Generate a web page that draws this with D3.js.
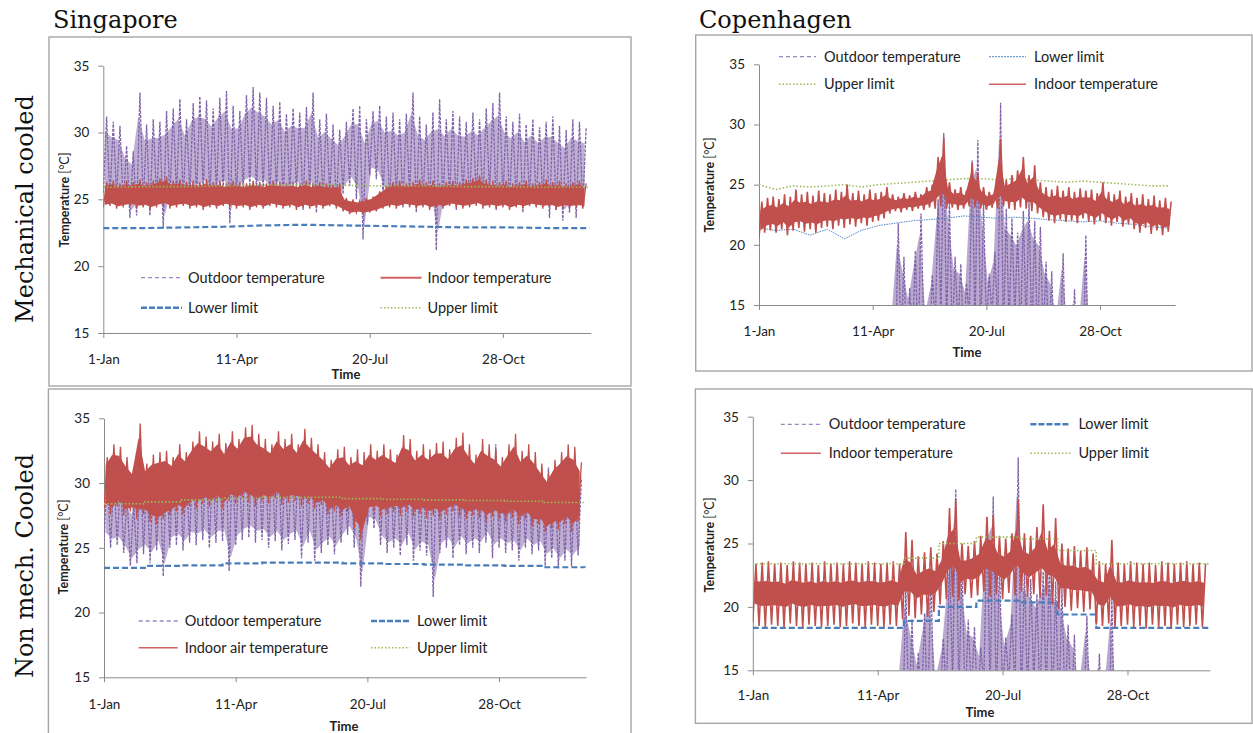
<!DOCTYPE html>
<html>
<head>
<meta charset="utf-8">
<script src="https://cdn.jsdelivr.net/npm/d3@7"></script>
<style>
  body { margin: 0; background: #fff; }
  svg { display: block; }
</style>
</head>
<body>
<svg id="chart" width="1253" height="733"></svg>
<script>
// ---- axis labels ----
const tickDays = [0, 100, 200, 300];
const tickLabels = ["1-Jan", "11-Apr", "20-Jul", "28-Oct"];
const yTicks = [15, 20, 25, 30, 35];

// hourly series are kept as 5-day envelopes: low at day 5i, high at day 5i+2.5
const STEP = 5;

// Singapore outdoor temperature (same weather file in both Singapore charts)
const sgOutHi = [
  31.2, 30.8, 30.5, 29.0, 28.6, 33.0, 30.6, 31.0, 30.8, 31.6,
  31.8, 32.5, 31.0, 32.2, 32.7, 32.4, 31.8, 32.6, 33.1, 32.0,
  31.6, 32.8, 33.4, 33.0, 32.6, 32.0, 32.3, 31.4, 31.8, 31.5,
  31.9, 33.0, 31.0, 31.4, 30.6, 30.2, 30.8, 31.8, 32.0, 31.0,
  31.6, 32.0, 31.2, 31.5, 31.0, 31.4, 33.0, 31.2, 30.6, 31.5,
  32.5, 31.0, 31.6, 31.2, 30.8, 31.5, 31.0, 31.8, 32.2, 33.0,
  31.2, 30.8, 31.4, 30.6, 31.0, 30.4, 30.8, 31.2, 30.5, 30.2,
  31.0, 30.8, 30.4
];
const sgOutLo = [
  25.5, 25.0, 25.2, 24.6, 23.6, 23.8, 24.5, 23.8, 24.8, 22.8,
  25.0, 25.2, 24.8, 25.4, 25.2, 25.6, 25.0, 25.4, 25.5, 23.2,
  25.2, 25.6, 25.8, 25.4, 25.6, 25.0, 25.5, 24.8, 25.3, 25.6,
  24.2, 25.4, 24.0, 24.6, 25.2, 24.5, 25.4, 26.0, 25.0, 22.0,
  26.8, 26.5, 25.2, 24.6, 25.0, 24.4, 25.2, 24.0, 24.8, 24.4,
  21.2, 24.6, 25.0, 24.2, 25.2, 24.5, 25.0, 24.6, 25.4, 24.2,
  25.0, 24.6, 24.8, 24.0, 25.0, 24.5, 24.8, 23.6, 24.2, 23.4,
  24.0, 23.6, 24.4
];

// Singapore, mechanical cooled, indoor temperature
const sgMechInHi = [
  26.3, 26.4, 26.2, 26.4, 26.3, 26.5, 26.3, 26.4, 26.6, 26.7,
  26.4, 26.5, 26.3, 26.4, 26.3, 26.5, 26.3, 26.4, 26.2, 26.4,
  26.3, 26.2, 26.4, 26.3, 26.2, 26.4, 26.3, 26.2, 26.3, 26.2,
  26.4, 26.2, 26.3, 26.2, 26.1, 26.2, 25.1, 25.0, 24.9, 25.1,
  25.2, 25.6, 26.0, 26.3, 26.4, 26.2, 26.3, 26.5, 26.3, 26.4,
  26.2, 26.3, 26.4, 26.3, 26.5, 26.6, 26.8, 26.5, 26.4, 26.3,
  26.4, 26.2, 26.3, 26.4, 26.2, 26.3, 26.5, 26.3, 26.4, 26.2,
  26.3, 26.4, 26.2
];
const sgMechInLo = [
  24.4, 24.5, 24.3, 24.4, 24.5, 24.3, 24.4, 24.2, 24.4, 24.5,
  24.3, 24.4, 24.5, 24.3, 24.4, 24.2, 24.4, 24.3, 24.5, 24.4,
  24.3, 24.4, 24.2, 24.4, 24.3, 24.5, 24.4, 24.3, 24.4, 24.2,
  24.4, 24.3, 24.4, 24.3, 24.5, 24.3, 24.1, 23.9, 24.0, 23.9,
  24.0, 24.1, 24.3, 24.4, 24.3, 24.5, 24.4, 24.3, 24.4, 24.2,
  24.4, 24.3, 24.5, 24.4, 24.3, 24.4, 24.5, 24.3, 24.4, 24.3,
  24.4, 24.2, 24.4, 24.3, 24.5, 24.4, 24.3, 24.4, 24.2, 24.4,
  24.3, 24.4, 24.3
];

// Singapore, non mech. cooled, indoor air temperature
const sgNatInHi = [
  32.0, 33.0, 32.8, 32.0, 31.2, 34.6, 31.5, 32.2, 32.4, 32.5,
  32.0, 33.0, 32.4, 33.2, 34.0, 33.6, 33.2, 33.8, 33.0, 34.0,
  33.4, 34.3, 34.5, 33.8, 33.4, 33.0, 34.0, 33.4, 33.8, 33.0,
  34.2, 33.5, 33.0, 32.4, 31.8, 32.6, 32.8, 32.0, 32.6, 32.4,
  33.0, 32.5, 33.0, 32.6, 32.2, 33.7, 33.4, 32.5, 33.0, 32.6,
  33.1, 33.2, 32.6, 33.5, 33.9, 33.0, 32.2, 33.4, 33.0, 32.6,
  32.0, 33.0, 33.8, 32.5, 33.0, 32.4, 31.5, 30.8, 31.8, 32.4,
  33.0, 32.8, 31.6
];
const sgNatInLo = [
  28.0, 27.6, 28.2, 27.5, 27.8, 27.2, 27.6, 27.0, 26.8, 27.2,
  27.5, 27.8, 27.6, 28.2, 28.0, 28.4, 28.2, 28.5, 28.0, 28.6,
  28.4, 28.8, 28.5, 28.2, 28.6, 28.4, 28.8, 28.3, 28.5, 28.6,
  28.2, 28.4, 28.0, 28.3, 27.6, 27.8, 27.4, 27.8, 26.5, 25.6,
  27.6, 27.8, 27.4, 27.6, 27.8, 27.5, 27.8, 27.4, 27.6, 27.3,
  27.5, 27.2, 27.6, 27.8, 27.4, 27.2, 27.5, 27.3, 27.0, 27.4,
  27.2, 27.0, 27.3, 26.8, 27.2, 26.6, 26.8, 26.2, 26.5, 26.4,
  26.8, 26.2, 27.0
];

// Copenhagen outdoor temperature (same weather file in both Copenhagen charts)
const cphOutHi = [
  4, 5, 3, 6, 2, 4, 5, 3, 6, 7,
  5, 8, 7, 9, 10, 8, 11, 12, 10, 13,
  12, 14, 13.5, 14.5, 21.8, 19.0, 16.4, 19.5, 22.6, 14.6,
  17.5, 23.8, 29.3, 23.6, 19.0, 18.4, 16.8, 27.0, 28.7, 23.5,
  17.6, 19.4, 31.8, 23.0, 22.2, 21.0, 22.8, 23.6, 22.0, 21.5,
  18.6, 17.8, 14.5, 19.3, 14.2, 16.3, 14.0, 20.8, 13.5, 12.5,
  11, 12, 10, 9, 10, 8, 7, 6, 7, 5,
  4, 5, 4
];
const cphOutLo = [
  -2, 0, -3, 1, -1, -4, 0, 2, -1, 1,
  0, 2, 3, 1, 4, 3, 5, 4, 6, 5,
  7, 6, 8, 9, 10, 11, 10, 12, 11, 13,
  12, 13, 14, 13, 12, 13, 12, 14, 13, 12,
  13, 14, 13, 12, 13, 14, 12, 13, 12, 11,
  12, 11, 10, 11, 10, 9, 10, 9, 8, 8,
  7, 6, 7, 5, 4, 5, 3, 2, 3, 1,
  0, 1, -1
];

// Copenhagen, mechanical cooled, indoor temperature
const cphMechInHi = [
  23.6, 23.9, 24.0, 23.8, 24.2, 24.0, 24.6, 24.2, 24.4, 24.1,
  24.5, 24.3, 24.2, 24.6, 24.4, 25.0, 24.3, 24.5, 24.2, 24.6,
  24.3, 24.4, 24.8, 24.2, 24.0, 24.3, 24.1, 24.4, 24.2, 24.8,
  25.0, 27.3, 28.9, 25.2, 24.6, 24.8, 24.5, 26.8, 26.0, 24.8,
  24.4, 24.6, 28.8, 25.4, 25.8, 26.2, 27.3, 25.8, 26.6, 25.2,
  24.8, 24.6, 24.9, 24.5, 24.8, 24.4, 24.7, 24.5, 24.6, 24.3,
  25.2, 24.4, 24.2, 24.5, 24.0, 24.3, 23.9, 24.2, 23.8, 24.1,
  23.7, 23.9, 23.6
];
const cphMechInLo = [
  20.6, 21.0, 21.2, 21.0, 21.3, 20.8, 21.2, 21.4, 21.1, 21.3,
  21.0, 21.4, 21.5, 21.3, 21.6, 21.4, 21.7, 21.5, 21.8, 21.6,
  21.9, 22.0, 22.2, 22.6, 22.8, 22.7, 22.9, 22.8, 23.0, 22.9,
  23.1, 23.0, 23.2, 23.0, 23.1, 22.9, 23.0, 23.2, 23.1, 23.0,
  22.9, 23.1, 23.0, 23.2, 23.0, 22.9, 23.1, 23.0, 22.8, 22.6,
  22.3, 22.0, 21.8, 22.1, 21.9, 22.0, 21.8, 22.2, 21.9, 21.7,
  22.0, 21.8, 21.6, 21.9, 21.5, 21.7, 21.3, 21.0, 21.4, 20.9,
  21.2, 20.8, 21.1
];

// Copenhagen, non mech. cooled, indoor temperature
const cphNatInHi = [
  23.4, 23.5, 23.6, 23.4, 23.5, 23.3, 23.6, 23.5, 23.4, 23.5,
  23.3, 23.6, 23.4, 23.5, 23.4, 23.6, 23.5, 23.4, 23.6, 23.5,
  23.4, 23.5, 23.6, 23.4, 25.9, 25.3, 24.0, 24.3, 24.7, 24.2,
  25.2, 27.8, 28.5, 25.0, 24.8, 25.2, 25.6, 27.1, 27.2, 25.6,
  25.4, 25.8, 28.5, 25.8, 25.6, 26.3, 28.1, 26.0, 27.0, 25.0,
  24.6, 24.8, 24.4, 24.7, 24.2, 23.6, 23.4, 25.3, 23.5, 23.4,
  23.6, 23.5, 23.4, 23.5, 23.3, 23.6, 23.5, 23.4, 23.5, 23.6,
  23.4, 23.5, 23.4
];
const cphNatInLo = [
  18.8, 18.5, 18.4, 18.6, 18.5, 18.4, 18.7, 18.5, 18.4, 18.6,
  18.5, 18.4, 18.5, 18.6, 18.4, 18.5, 18.7, 18.5, 18.4, 18.6,
  18.5, 18.4, 18.6, 18.5, 19.0, 19.3, 19.1, 19.4, 19.2, 19.6,
  20.2, 20.6, 20.8, 20.5, 21.0, 20.7, 20.9, 21.2, 20.8, 21.0,
  20.6, 21.1, 20.9, 21.2, 20.8, 21.0, 20.7, 20.9, 20.2, 19.8,
  20.0, 19.7, 19.9, 19.6, 19.8, 18.6, 18.5, 18.7, 18.4, 18.5,
  18.6, 18.4, 18.5, 18.3, 18.6, 18.4, 18.5, 18.3, 18.6, 18.4,
  18.5, 18.6, 18.4
];

// comfort limits
const monthDays = [0, 31, 59, 90, 120, 151, 181, 212, 243, 273, 304, 334, 365];
const sgMechLower = [22.85, 22.85, 22.9, 22.95, 23.05, 23.1, 23.05, 23.0, 22.95, 22.9, 22.9, 22.85, 22.85];
const sgMechUpper = [25.9, 25.95, 25.95, 26.0, 26.05, 26.1, 26.05, 26.0, 26.0, 25.95, 25.95, 25.9, 25.9];
const sgNatLower = [23.45, 23.6, 23.65, 23.8, 23.85, 23.85, 23.8, 23.75, 23.7, 23.65, 23.6, 23.5, 23.45];
const sgNatUpper = [28.4, 28.55, 28.7, 28.85, 28.9, 28.9, 28.8, 28.75, 28.7, 28.65, 28.6, 28.5, 28.45];

const halfMonthDays = [0, 15, 30, 45, 60, 75, 90, 105, 120, 135, 150, 165, 180,
  195, 210, 225, 240, 255, 270, 285, 300, 315, 330, 345, 360];
const cphMechLower = [21.4, 21.2, 21.3, 20.8, 21.3, 20.5, 21.2, 21.6, 21.8, 22.0, 22.1, 22.2, 22.4,
  22.3, 22.2, 22.3, 22.2, 22.1, 22.0, 21.9, 22.0, 21.8, 21.7, 21.5, 21.4];
const cphMechUpper = [25.0, 24.6, 24.9, 24.8, 24.9, 25.0, 24.8, 25.0, 25.1, 25.2, 25.3, 25.4, 25.5,
  25.5, 25.4, 25.5, 25.4, 25.3, 25.2, 25.3, 25.2, 25.1, 25.0, 24.9, 24.9];

const cphStepDays = [0, 121, 149, 179, 214, 244, 275, 366];
const cphNatLower = [18.35, 18.9, 20.0, 20.5, 20.35, 19.4, 18.35, 18.35];
const cphNatUpper = [23.4, 23.85, 25.0, 25.5, 25.35, 24.45, 23.4, 23.4];

// legend texts
const legSgMech = ["Outdoor temperature", "Indoor temperature", "Lower limit", "Upper limit"];
const legSgNat = ["Outdoor temperature", "Lower limit", "Indoor air temperature", "Upper limit"];
const legCphMech = ["Outdoor temperature", "Lower limit", "Upper limit", "Indoor temperature"];
const legCphNat = ["Outdoor temperature", "Lower limit", "Indoor temperature", "Upper limit"];

const FONT = "Lato, 'Open Sans', sans-serif";
const SERIF = "'DejaVu Serif', 'Liberation Serif', serif";
const TXT = "#222";

const styles = {
  outdoor:   { stroke: "#7F62A8", width: 1.3, dash: "3,1.2", legStroke: "#9d86c0", legWidth: 1.3, legDash: "4,3" },
  indoor:    { stroke: "#C0504D", width: 1.3, dash: null, legStroke: "#d0625f", legWidth: 2, legDash: null },
  indoorZig: { stroke: "#C0504D", width: 1.6, dash: null, legStroke: "#d0625f", legWidth: 1.5, legDash: null },
  lowerBold: { stroke: "#4A7EBB", width: 2.2, dash: "6,3", legStroke: "#4A7EBB", legWidth: 2.4, legDash: "6,2" },
  lowerThin: { stroke: "#4F86C6", width: 1, dash: "1.5,1", legStroke: "#4F86C6", legWidth: 1, legDash: "2,1" },
  upper:     { stroke: "#9BBB59", width: 1.6, dash: "1.5,2", legStroke: "#9BBB59", legWidth: 1.6, legDash: "1.5,2" }
};

// fill = opacity of the dense core between the envelopes, inset = [from low, from high] fraction left open
const panels = [
  { // Singapore, mechanical cooled
    box: [49, 37, 631, 386], xr: [103.3, 590.8], yr: [333, 65.7], tickPad: 16,
    yTitle: [69, 200], time: [346, 374],
    series: [
      { type: "env", lo: sgOutLo, hi: sgOutHi, style: "outdoor", fill: 0.5, inset: [0.12, 0.2] },
      { type: "env", lo: sgMechInLo, hi: sgMechInHi, style: "indoor", fill: 1, inset: [0.1, 0.15] },
      { type: "limit", days: monthDays, vals: sgMechLower, style: "lowerBold", curve: d3.curveLinear },
      { type: "limit", days: monthDays, vals: sgMechUpper, style: "upper", curve: d3.curveLinear }
    ],
    legend: { names: legSgMech, styles: ["outdoor", "indoor", "lowerBold", "upper"],
      cols: [141, 380.5], rows: [277.7, 307.7], w: 41, gap: 6 }
  },
  { // Singapore, non mech. cooled
    box: [48.4, 389, 631, 745], xr: [104, 586], yr: [677.3, 418.3], tickPad: 17.5,
    yTitle: [68, 547], time: [344, 726],
    series: [
      { type: "env", lo: sgOutLo, hi: sgOutHi, style: "outdoor", fill: 0.5, inset: [0.12, 0.2] },
      { type: "limit", days: monthDays, vals: sgNatLower, style: "lowerBold", curve: d3.curveStepAfter },
      { type: "env", lo: sgNatInLo, hi: sgNatInHi, style: "indoor", fill: 1, inset: [0.1, 0.15] },
      { type: "limit", days: monthDays, vals: sgNatUpper, style: "upper", curve: d3.curveStepAfter }
    ],
    legend: { names: legSgNat, styles: ["outdoor", "lowerBold", "indoorZig", "upper"],
      cols: [138.7, 371], rows: [621, 647.7], w: 39, gap: 7 }
  },
  { // Copenhagen, mechanical cooled
    box: [695.7, 35, 1252, 371], xr: [759, 1175.1], yr: [305, 64.3], tickPad: 16,
    yTitle: [714, 185], time: [967, 352],
    series: [
      { type: "env", lo: cphOutLo, hi: cphOutHi, style: "outdoor", fill: 0.55, inset: [0, 0.15] },
      { type: "limit", days: halfMonthDays, vals: cphMechLower, style: "lowerThin", curve: d3.curveLinear },
      { type: "limit", days: halfMonthDays, vals: cphMechUpper, style: "upper", curve: d3.curveLinear },
      { type: "env", lo: cphMechInLo, hi: cphMechInHi, style: "indoorZig", fill: 1, inset: [0.2, 0.25] }
    ],
    legend: { names: legCphMech, styles: ["outdoor", "lowerThin", "upper", "indoorZig"],
      cols: [779, 989], rows: [56.7, 84.3], w: 37, gap: 8 }
  },
  { // Copenhagen, non mech. cooled
    box: [695.4, 389, 1252, 723.3], xr: [752.8, 1209.9], yr: [670.3, 416.7], tickPad: 15.5,
    yTitle: [714, 545], time: [980, 712],
    series: [
      { type: "env", lo: cphOutLo, hi: cphOutHi, style: "outdoor", fill: 0.55, inset: [0, 0.15] },
      { type: "limit", days: cphStepDays, vals: cphNatLower, style: "lowerBold", curve: d3.curveStepAfter },
      { type: "env", lo: cphNatInLo, hi: cphNatInHi, style: "indoorZig", fill: 1, inset: [0.32, 0.3] },
      { type: "limit", days: cphStepDays, vals: cphNatUpper, style: "upper", curve: d3.curveStepAfter }
    ],
    legend: { names: legCphNat, styles: ["outdoor", "lowerBold", "indoorZig", "upper"],
      cols: [780.8, 1030.4], rows: [424.3, 453.3], w: 40, gap: 8 }
  }
];

const svg = d3.select("#chart");

// city titles and row labels
svg.append("text").attr("x", 53).attr("y", 28).attr("font-family", SERIF).attr("font-size", 24)
  .attr("fill", "#111").text("Singapore");
svg.append("text").attr("x", 699).attr("y", 28).attr("font-family", SERIF).attr("font-size", 24)
  .attr("fill", "#111").text("Copenhagen");
svg.append("text").attr("transform", "translate(33,209) rotate(-90)").attr("text-anchor", "middle")
  .attr("font-family", SERIF).attr("font-size", 24).attr("fill", "#111").text("Mechanical cooled");
svg.append("text").attr("transform", "translate(33,566) rotate(-90)").attr("text-anchor", "middle")
  .attr("font-family", SERIF).attr("font-size", 24).attr("fill", "#111").text("Non mech. Cooled");

panels.forEach((p, k) => {
  const g = svg.append("g");

  // chart frame
  g.append("rect")
    .attr("x", p.box[0]).attr("y", p.box[1])
    .attr("width", p.box[2] - p.box[0]).attr("height", p.box[3] - p.box[1])
    .attr("fill", "#fff").attr("stroke", "#a6a6a6").attr("stroke-width", 1.4);

  const x = d3.scaleLinear().domain([0, 366]).range(p.xr);
  const y = d3.scaleLinear().domain([15, 35]).range(p.yr);

  // axes
  const yAxis = d3.axisLeft(y).tickValues(yTicks).tickSize(5).tickSizeOuter(0).tickPadding(9);
  const gy = g.append("g").attr("transform", `translate(${p.xr[0]},0)`).call(yAxis);
  const xAxis = d3.axisBottom(x).tickValues(tickDays).tickFormat((d, i) => tickLabels[i])
    .tickSize(5).tickSizeOuter(0).tickPadding(p.tickPad);
  const gx = g.append("g").attr("transform", `translate(0,${p.yr[0]})`).call(xAxis);
  [gx, gy].forEach(a => {
    a.select(".domain").attr("stroke", "#8a8a8a");
    a.selectAll(".tick line").attr("stroke", "#8a8a8a");
    a.selectAll(".tick text").attr("fill", TXT).attr("font-family", FONT).attr("font-size", 13.5);
  });

  // axis titles
  g.append("text").attr("x", p.time[0]).attr("y", p.time[1]).attr("dy", "0.35em")
    .attr("text-anchor", "middle").attr("font-family", FONT).attr("font-weight", "bold")
    .attr("font-size", 13).attr("fill", TXT).text("Time");
  const yt = g.append("text")
    .attr("transform", `translate(${p.yTitle[0]},${p.yTitle[1]}) rotate(-90)`)
    .attr("text-anchor", "middle").attr("font-family", FONT).attr("font-size", 12.5).attr("fill", TXT);
  yt.append("tspan").attr("font-weight", "bold").text("Temperature");
  yt.append("tspan").text(" [°C]");

  // plot area clip
  const clipId = "plotclip" + k;
  g.append("clipPath").attr("id", clipId).append("rect")
    .attr("x", p.xr[0]).attr("y", p.yr[1] - 2)
    .attr("width", p.xr[1] - p.xr[0]).attr("height", p.yr[0] - p.yr[1] + 2);
  const plot = g.append("g").attr("clip-path", `url(#${clipId})`);

  const line = d3.line().x(d => x(d[0])).y(d => y(d[1]));

  p.series.forEach(s => {
    const st = styles[s.style];
    if (s.type === "env") {
      // dense core of the hourly trace
      const area = d3.area()
        .x((d, i) => x(i * STEP + STEP / 4))
        .y0(d => y(d[0])).y1(d => y(d[1]));
      plot.append("path")
        .datum(s.lo.map((v, i) => [v + (s.hi[i] - v) * s.inset[0], s.hi[i] - (s.hi[i] - v) * s.inset[1]]))
        .attr("d", area).attr("fill", st.stroke).attr("fill-opacity", s.fill).attr("stroke", "none");
      // daily swings between the envelopes
      const pts = [];
      s.lo.forEach((v, i) => {
        pts.push([i * STEP, v]);
        pts.push([i * STEP + STEP / 2, s.hi[i]]);
      });
      plot.append("path").datum(pts).attr("d", line)
        .attr("fill", "none").attr("stroke", st.stroke).attr("stroke-width", st.width)
        .attr("stroke-dasharray", st.dash).attr("stroke-linejoin", "miter");
    } else {
      const pts = s.days.map((d, i) => [d, s.vals[i]]);
      plot.append("path").datum(pts).attr("d", line.curve(s.curve))
        .attr("fill", "none").attr("stroke", st.stroke).attr("stroke-width", st.width)
        .attr("stroke-dasharray", st.dash);
      line.curve(d3.curveLinear);
    }
  });

  // legend, two columns by two rows
  const L = p.legend;
  L.names.forEach((name, i) => {
    const st = styles[L.styles[i]];
    const cx = L.cols[i % 2], cy = L.rows[Math.floor(i / 2)];
    g.append("line").attr("x1", cx).attr("x2", cx + L.w).attr("y1", cy).attr("y2", cy)
      .attr("stroke", st.legStroke).attr("stroke-width", st.legWidth)
      .attr("stroke-dasharray", st.legDash);
    g.append("text").attr("x", cx + L.w + L.gap).attr("y", cy).attr("dy", "0.35em")
      .attr("font-family", FONT).attr("font-size", 14.5).attr("fill", TXT).text(name);
  });
});
</script>
</body>
</html>
